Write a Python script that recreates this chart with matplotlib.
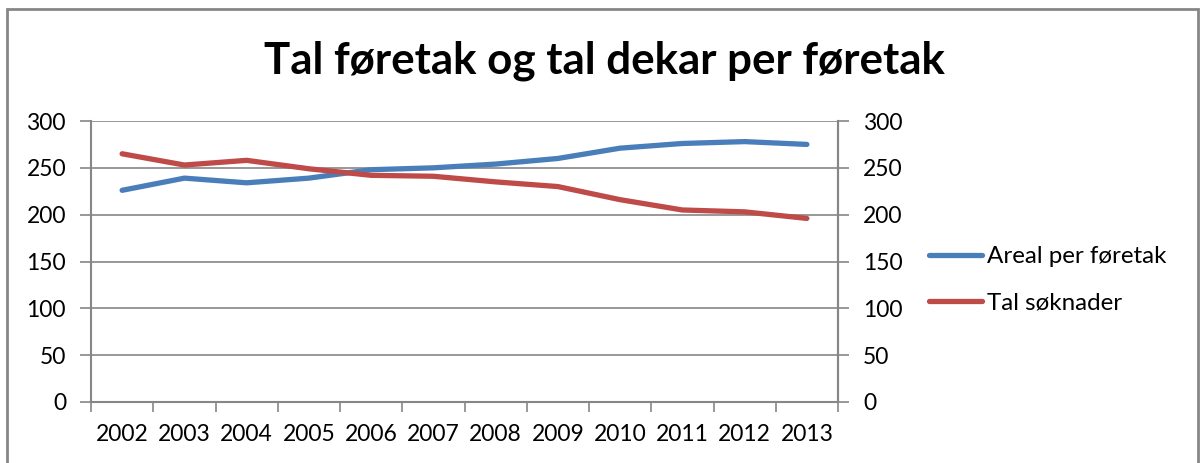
import matplotlib
matplotlib.use("Agg")
import matplotlib.pyplot as plt
from matplotlib.patches import Rectangle
from matplotlib.lines import Line2D

years = ["2002", "2003", "2004", "2005", "2006", "2007",
         "2008", "2009", "2010", "2011", "2012", "2013"]
areal_per_foretak = [226, 239, 234, 239, 248, 250, 254, 260, 271, 276, 278, 275]
tal_soknader = [265, 253, 258, 249, 242, 241, 235, 230, 216, 205, 203, 196]
y_ticks = [0, 50, 100, 150, 200, 250, 300]

title = "Tal føretak og tal dekar per føretak"
labels = ["Areal per føretak", "Tal søknader"]
colors = ["#4A7EBB", "#BE4B48"]
grey = "#868686"
font = "Lato"

W, H = 1200, 463
fig = plt.figure(figsize=(W / 100, H / 100), dpi=100)

# outer chart border
fig.patches.append(Rectangle((7 / W, -0.1), (1198 - 7) / W, 1.1 - 9 / H,
                             transform=fig.transFigure, fill=False,
                             edgecolor=grey, linewidth=2.0))

left, right, top, bottom = 91, 838, 121, 402
ax = fig.add_axes([left / W, 1 - bottom / H, (right - left) / W, (bottom - top) / H])

x = list(range(len(years)))
ax.plot(x, areal_per_foretak, color=colors[0], lw=3.8, solid_capstyle="round",
        solid_joinstyle="round", label=labels[0], zorder=3)
ax.plot(x, tal_soknader, color=colors[1], lw=3.8, solid_capstyle="round",
        solid_joinstyle="round", label=labels[1], zorder=3)

ax.set_xlim(-0.5, len(years) - 0.5)
ax.set_ylim(0, 300)
ax.set_yticks(y_ticks)
ax.set_yticklabels([str(v) for v in y_ticks], fontsize=16.5, family=font)
ax.grid(axis="y", color=grey, lw=1.2)
ax.set_axisbelow(True)

ax.set_xticks(x)
ax.set_xticklabels(years, fontsize=16.5, family=font)
ax.set_xticks([i - 0.5 for i in range(len(years) + 1)], minor=True)
ax.tick_params(axis="x", which="major", length=0, pad=16)
ax.tick_params(axis="x", which="minor", length=7, color=grey, width=1.2)
ax.tick_params(axis="y", length=8, color=grey, width=1.2, pad=10)

for s in ["top"]:
    ax.spines[s].set_visible(False)
for s in ["left", "right", "bottom"]:
    ax.spines[s].set_color(grey)
    ax.spines[s].set_linewidth(1.5)

ax2 = ax.twinx()
ax2.set_ylim(0, 300)
ax2.set_yticks(y_ticks)
ax2.set_yticklabels([str(v) for v in y_ticks], fontsize=16.5, family=font)
ax2.tick_params(axis="y", length=8, color=grey, width=1.2, pad=10)
for s in ["top", "left", "bottom"]:
    ax2.spines[s].set_visible(False)
ax2.spines["right"].set_color(grey)
ax2.spines["right"].set_linewidth(1.5)

fig.text(604 / W, 1 - 61 / H, title, ha="center", va="center",
         fontsize=31.6, fontweight="bold", family=font)

handles = [Line2D([], [], color=c, lw=3.8, solid_capstyle="round") for c in colors]
fig.legend(handles, labels, loc="center left", bbox_to_anchor=(929 / W, 1 - 280 / H),
           frameon=False, prop={"family": font, "size": 17.4},
           handlelength=2.2, handletextpad=0.2, labelspacing=1.05,
           borderaxespad=0, borderpad=0)

fig.savefig("out.png", dpi=100, facecolor="white")
